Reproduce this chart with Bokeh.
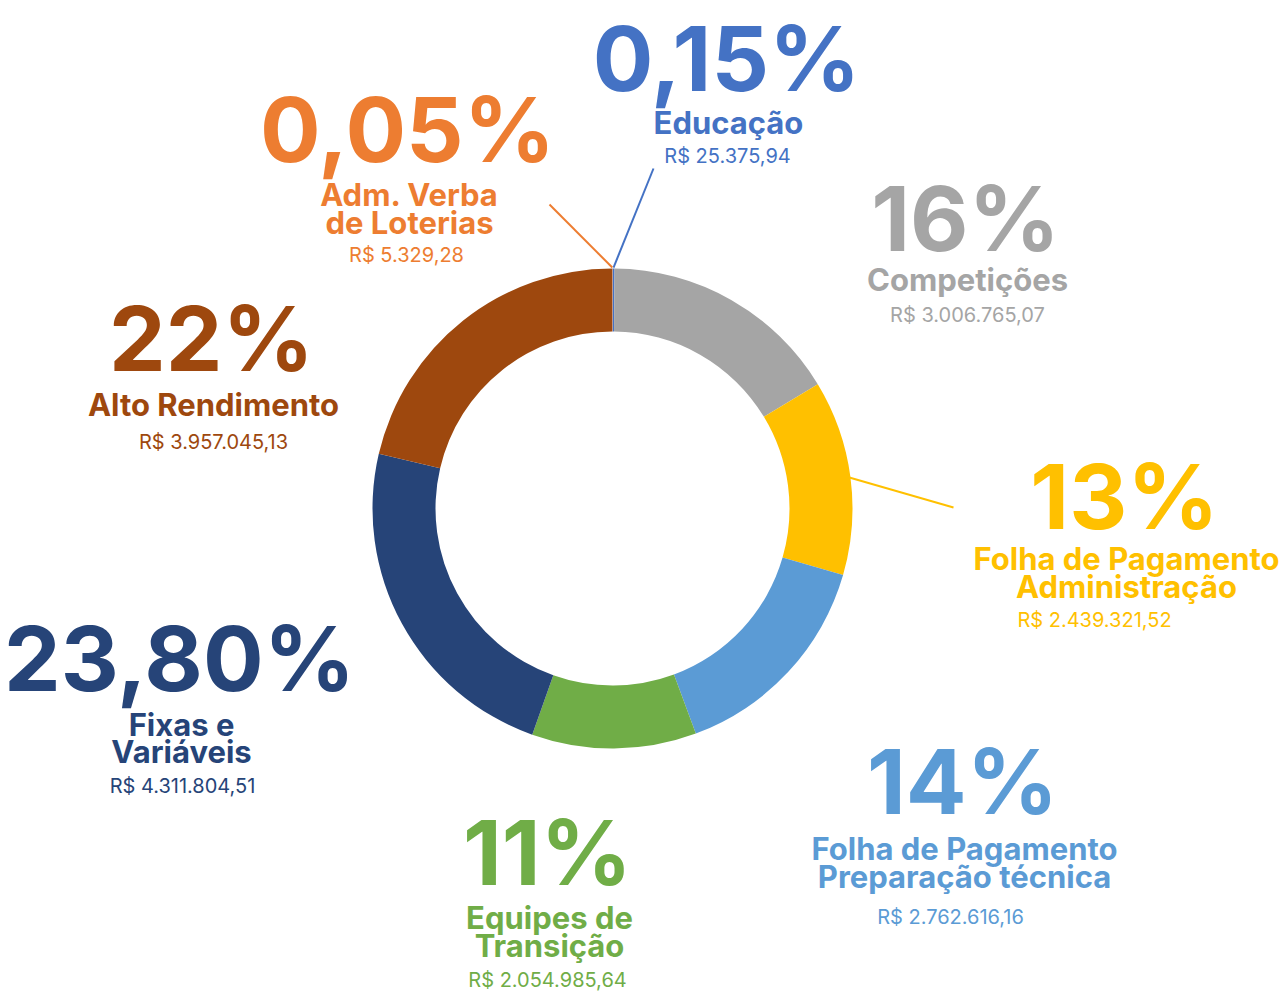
import math
from bokeh.plotting import figure
from bokeh.models import Range1d, ColumnDataSource
from bokeh.core.properties import value
from bokeh.embed import file_html
from bokeh.resources import INLINE

# ---- data (clockwise from 12 o'clock) ----
categories = ["Educação", "Competições", "Folha de Pagamento\nAdministração",
              "Folha de Pagamento\nPreparação técnica", "Equipes de\nTransição",
              "Fixas e\nVariáveis", "Alto Rendimento", "Adm. Verba\nde Loterias"]
amounts = [25375.94, 3006765.07, 2439321.52, 2762616.16, 2054985.64,
           4311804.51, 3957045.13, 5329.28]
pct_labels = ["0,15%", "16%", "13%", "14%", "11%", "23,80%", "22%", "0,05%"]
amount_labels = ["R$ 25.375,94", "R$ 3.006.765,07", "R$ 2.439.321,52", "R$ 2.762.616,16",
                 "R$ 2.054.985,64", "R$ 4.311.804,51", "R$ 3.957.045,13", "R$ 5.329,28"]
colors = ["#4472C4", "#A5A5A5", "#FFC000", "#5B9BD5", "#70AD47", "#264478", "#9E480E", "#ED7D31"]

# ---- layout (screen-pixel coordinates; y measured downward) ----
W, H = 1287, 994
CX, CY = 612, 508
R_OUT, R_IN = 240, 177
PCT_SIZE, NAME_SIZE, AMT_SIZE = 90, 31, 20
SHIFT = 0.34  # baseline correction (fraction of font size)

# (x center, baseline percent, baseline 1st name line, line gap, baseline amount, amount x)
label_pos = [
    (726, 89, 133, 0, 162, 727),
    (965, 249, 290, 0, 321, 967),
    (1124, 527, 569, 28, 626, 1094),
    (962, 812, 859, 28, 923, 950),
    (547, 883, 928, 28, 986, 547),
    (179, 689, 735, 27, 792, 182),
    (211, 369, 415, 0, 448, 213),
    (407, 160, 205, 28, 261, 406),
]
leader_idx = [0, 7, 2]
leader_end = [(653, 168), (549, 204), (953, 507)]

p = figure(width=W, height=H, output_backend="svg", toolbar_location=None,
           x_range=Range1d(0, W), y_range=Range1d(-H, 0),
           min_border=0, outline_line_color=None, background_fill_color="white",
           border_fill_color="white")
p.axis.visible = False
p.grid.visible = False

total = sum(amounts)
starts, ends = [], []
cum = 0.0
for a in amounts:
    f0 = cum / total
    cum += a
    f1 = cum / total
    starts.append(math.pi / 2 - f1 * 2 * math.pi)
    ends.append(math.pi / 2 - f0 * 2 * math.pi)

src = ColumnDataSource(dict(start=starts, end=ends, color=colors))
p.annular_wedge(x=CX, y=-CY, inner_radius=R_IN, outer_radius=R_OUT,
                start_angle="start", end_angle="end", color="color",
                line_color=None, source=src)

for i, (ex, ey) in zip(leader_idx, leader_end):
    mid = (starts[i] + ends[i]) / 2
    rr = R_OUT - 2 if i == 2 else R_OUT + 1
    sx, sy = CX + rr * math.cos(mid), -CY + rr * math.sin(mid)
    p.line([sx, ex], [sy, -ey], line_color=colors[i], line_width=2)

BOLD = value("Inter")
for i in range(len(categories)):
    x, yp, yn, gap, ya, xa = label_pos[i]
    col = colors[i]
    p.text(x=[x], y=[-yp + SHIFT * PCT_SIZE], text=[pct_labels[i]], text_font=BOLD,
           text_font_style="bold", text_font_size=f"{PCT_SIZE}px", text_color=col,
           text_align="center", text_baseline="alphabetic")
    for k, ln in enumerate(categories[i].split("\n")):
        p.text(x=[x + 2], y=[-(yn + k * gap) + SHIFT * NAME_SIZE], text=[ln], text_font=BOLD,
               text_font_style="bold", text_font_size=f"{NAME_SIZE}px", text_color=col,
               text_align="center", text_baseline="alphabetic")
    p.text(x=[xa], y=[-ya + SHIFT * AMT_SIZE], text=[amount_labels[i]], text_font=value("Inter"),
           text_font_size=f"{AMT_SIZE}px", text_color=col, text_align="center",
           text_baseline="alphabetic")

open("out.html", "w").write(file_html(p, INLINE))
